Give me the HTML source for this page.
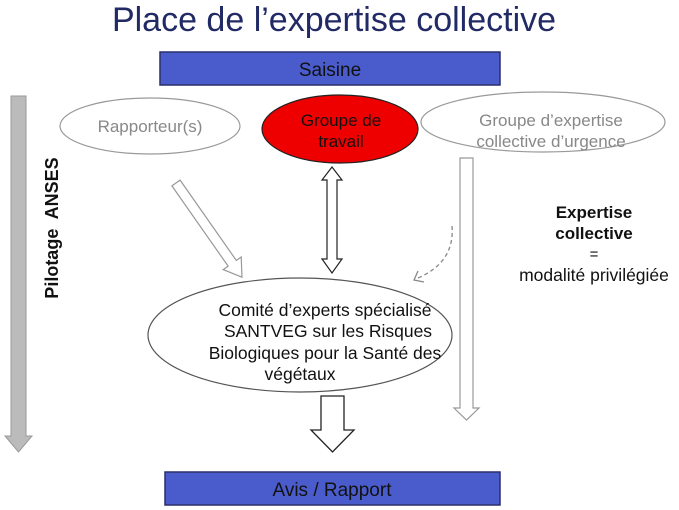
<!DOCTYPE html>
<html><head><meta charset="utf-8"><style>
html,body{margin:0;padding:0;background:#fff;width:679px;height:510px;overflow:hidden}
svg{display:block;font-family:"Liberation Sans",sans-serif}
</style></head><body>
<svg width="679" height="510" viewBox="0 0 679 510">
<text x="334" y="31" font-size="34" fill="#222a66" text-anchor="middle">Place de l’expertise collective</text>
<rect x="160" y="52" width="340" height="33" fill="#4a5ccc" stroke="#2a2f6a" stroke-width="1.5"/>
<text x="330" y="76" font-size="19" text-anchor="middle" fill="#111">Saisine</text>
<rect x="165" y="472" width="335" height="33" fill="#4a5ccc" stroke="#2a2f6a" stroke-width="1.5"/>
<text x="332" y="496" font-size="19" text-anchor="middle" fill="#111">Avis / Rapport</text>
<polygon points="11,96 26,96 26,436 32,436 18.5,452 5,436 11,436" fill="#bbb" stroke="#999" stroke-width="1"/>
<text transform="translate(58,228) rotate(-90)" font-size="18" font-weight="bold" text-anchor="middle" fill="#111" style="white-space:pre">Pilotage  ANSES</text>
<ellipse cx="150" cy="126" rx="90" ry="28" fill="#fff" stroke="#999" stroke-width="1.2"/>
<text x="150" y="132" font-size="17" fill="#888" text-anchor="middle">Rapporteur(s)</text>
<ellipse cx="340" cy="129" rx="78" ry="34" fill="#ee0000" stroke="#222" stroke-width="1.2"/>
<text x="341" y="126" font-size="17" fill="#111" text-anchor="middle">Groupe de</text>
<text x="341" y="147" font-size="17" fill="#111" text-anchor="middle">travail</text>
<ellipse cx="543" cy="122" rx="122" ry="30" fill="#fff" stroke="#999" stroke-width="1.2"/>
<text x="551" y="126" font-size="17" fill="#888" text-anchor="middle">Groupe d’expertise</text>
<text x="551" y="147" font-size="17" fill="#888" text-anchor="middle">collective d’urgence</text>
<g transform="translate(176,183) rotate(-35)">
<polygon points="-5,0 5,0 5,98 11,98 0,115 -11,98 -5,98" fill="#fff" stroke="#999" stroke-width="1.2"/>
</g>
<polygon points="332,167 342,180 337,180 337,259 342,259 332,273 322,259 327,259 327,180 322,180" fill="#fff" stroke="#222" stroke-width="1.2"/>
<path d="M452,226 Q455,262 418,278" fill="none" stroke="#888" stroke-width="1.3" stroke-dasharray="4,3"/>
<polyline points="418,271 414,280 424,282" fill="none" stroke="#888" stroke-width="1.3"/>
<polygon points="460,158 473,158 473,408 479,408 466.5,420 454,408 460,408" fill="#fff" stroke="#999" stroke-width="1.2"/>
<ellipse cx="300" cy="335" rx="152" ry="57" fill="#fff" stroke="#555" stroke-width="1.2"/>
<g font-size="17.5" fill="#111" text-anchor="middle">
<text x="325" y="316">Comité d’experts spécialisé</text>
<text x="328" y="337">SANTVEG sur les Risques</text>
<text x="325" y="359">Biologiques pour la Santé des</text>
<text x="300" y="380">végétaux</text>
</g>
<polygon points="321,396 344,396 344,430 354,430 332.5,452 311,430 321,430" fill="#fff" stroke="#222" stroke-width="1.3"/>
<text x="594" y="218" font-size="17" font-weight="bold" fill="#111" text-anchor="middle">Expertise</text>
<text x="594" y="239" font-size="17" font-weight="bold" fill="#111" text-anchor="middle">collective</text>
<text x="594" y="259" font-size="15" fill="#111" text-anchor="middle">=</text>
<text x="594" y="281" font-size="17.5" fill="#111" text-anchor="middle">modalité privilégiée</text>
</svg>
</body></html>
